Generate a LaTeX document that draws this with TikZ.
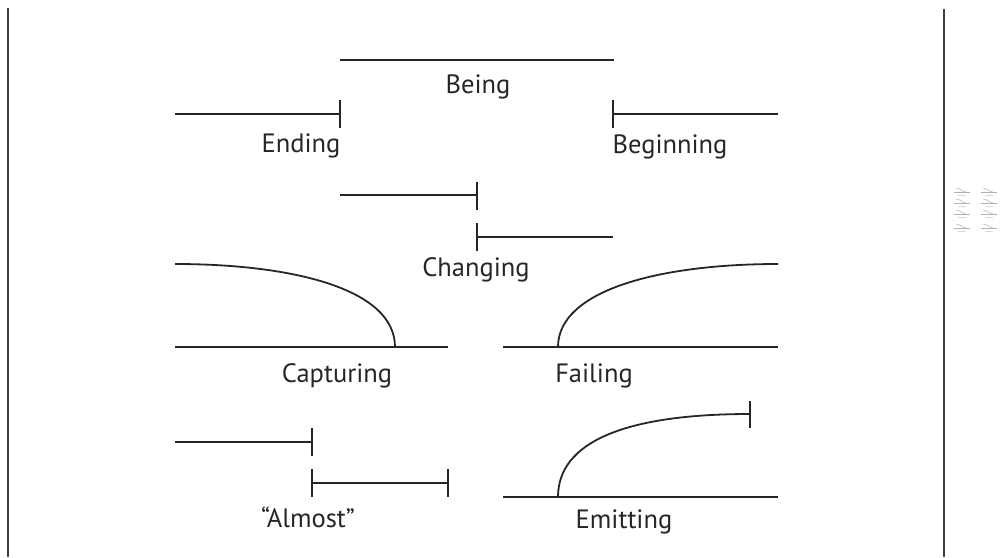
\documentclass[tikz,border=0pt]{standalone}
\usepackage{fontspec}
\setmainfont{PT Sans}
\begin{document}
\begin{tikzpicture}[x=1pt,y=-1pt,
  stroke/.style={line width=1.8pt, draw=black!85},
  frame/.style={line width=2.5pt, draw=black!75},
  lbl/.style={anchor=base, inner sep=0pt, font=\fontsize{26.5}{30}\selectfont, text=black!85},
  faint/.style={line width=0.5pt, draw=black!30},
  faintcap/.style={line width=1pt, draw=black!15}
]
\useasboundingbox (0,0) rectangle (1003,557);
% frame lines
\coordinate (fl1) at (8,8); \coordinate (fl2) at (8,557);
\coordinate (fr1) at (944,9); \coordinate (fr2) at (944,557);
\draw[frame] (fl1) -- (fl2);
\draw[frame] (fr1) -- (fr2);

% Being
\coordinate (beA) at (340,60); \coordinate (beB) at (614,60);
\draw[stroke] (beA) -- (beB);
\node[lbl] (being) at (478,93) {Being};

% Ending
\coordinate (enA) at (175,114); \coordinate (enB) at (340,114);
\coordinate (enT1) at (340,100); \coordinate (enT2) at (340,128);
\draw[stroke] (enA) -- (enB);
\draw[stroke] (enT1) -- (enT2);
\node[lbl] (ending) at (301,152) {Ending};

% Beginning
\coordinate (bgA) at (613,114); \coordinate (bgB) at (778,114);
\coordinate (bgT1) at (613,100); \coordinate (bgT2) at (613,128);
\draw[stroke] (bgA) -- (bgB);
\draw[stroke] (bgT1) -- (bgT2);
\node[lbl] (beginning) at (670,153) {Beginning};

% Changing
\coordinate (chA) at (340,195); \coordinate (chB) at (477,195);
\coordinate (chT1) at (477,182); \coordinate (chT2) at (477,210);
\coordinate (chC) at (477,237); \coordinate (chD) at (613,237);
\coordinate (chT3) at (477,223); \coordinate (chT4) at (477,251);
\draw[stroke] (chA) -- (chB);
\draw[stroke] (chT1) -- (chT2);
\draw[stroke] (chC) -- (chD);
\draw[stroke] (chT3) -- (chT4);
\node[lbl] (changing) at (476,276) {Changing};

% Capturing
\coordinate (caA) at (175,347); \coordinate (caB) at (448,347);
\coordinate (caS) at (175,264); \coordinate (caE) at (395,347);
\draw[stroke] (caA) -- (caB);
\draw[stroke] (caS) .. controls (290,264) and (395,288) .. (caE);
\node[lbl] (capturing) at (337,382) {Capturing};

% Failing
\coordinate (faA) at (503,347); \coordinate (faB) at (778,347);
\coordinate (faS) at (558,347); \coordinate (faE) at (778,264);
\draw[stroke] (faA) -- (faB);
\draw[stroke] (faS) .. controls (558,290) and (660,264) .. (faE);
\node[lbl] (failing) at (594,382) {Failing};

% Almost
\coordinate (alA) at (175,442); \coordinate (alB) at (312,442);
\coordinate (alT1) at (312,428); \coordinate (alT2) at (312,456);
\coordinate (alC) at (312,483); \coordinate (alD) at (448,483);
\coordinate (alT3) at (312,469); \coordinate (alT4) at (312,497);
\coordinate (alT5) at (448,469); \coordinate (alT6) at (448,497);
\draw[stroke] (alA) -- (alB);
\draw[stroke] (alT1) -- (alT2);
\draw[stroke] (alC) -- (alD);
\draw[stroke] (alT3) -- (alT4);
\draw[stroke] (alT5) -- (alT6);
\node[lbl] (almost) at (308,527) {“Almost”};

% Emitting
\coordinate (emA) at (503,497); \coordinate (emB) at (778,497);
\coordinate (emS) at (558,497); \coordinate (emE) at (750,414);
\coordinate (emT1) at (750,401); \coordinate (emT2) at (750,428);
\draw[stroke] (emA) -- (emB);
\draw[stroke] (emS) .. controls (558,442) and (625,414) .. (emE);
\draw[stroke] (emT1) -- (emT2);
\node[lbl] (emitting) at (624,528) {Emitting};

% faint thumbnail at right
\foreach \cx in {962,989} {
  \foreach \cy in {192,203,214,228} {
    \draw[faint] (\cx-8,\cy) -- (\cx+8,\cy);
    \draw[faint] (\cx-6,\cy-4) .. controls (\cx-2,\cy-4) and (\cx+1,\cy) .. (\cx+4,\cy);
    \draw[faintcap] (\cx-4,\cy+3) -- (\cx+4,\cy+3);
  }
}
\end{tikzpicture}
\end{document}
